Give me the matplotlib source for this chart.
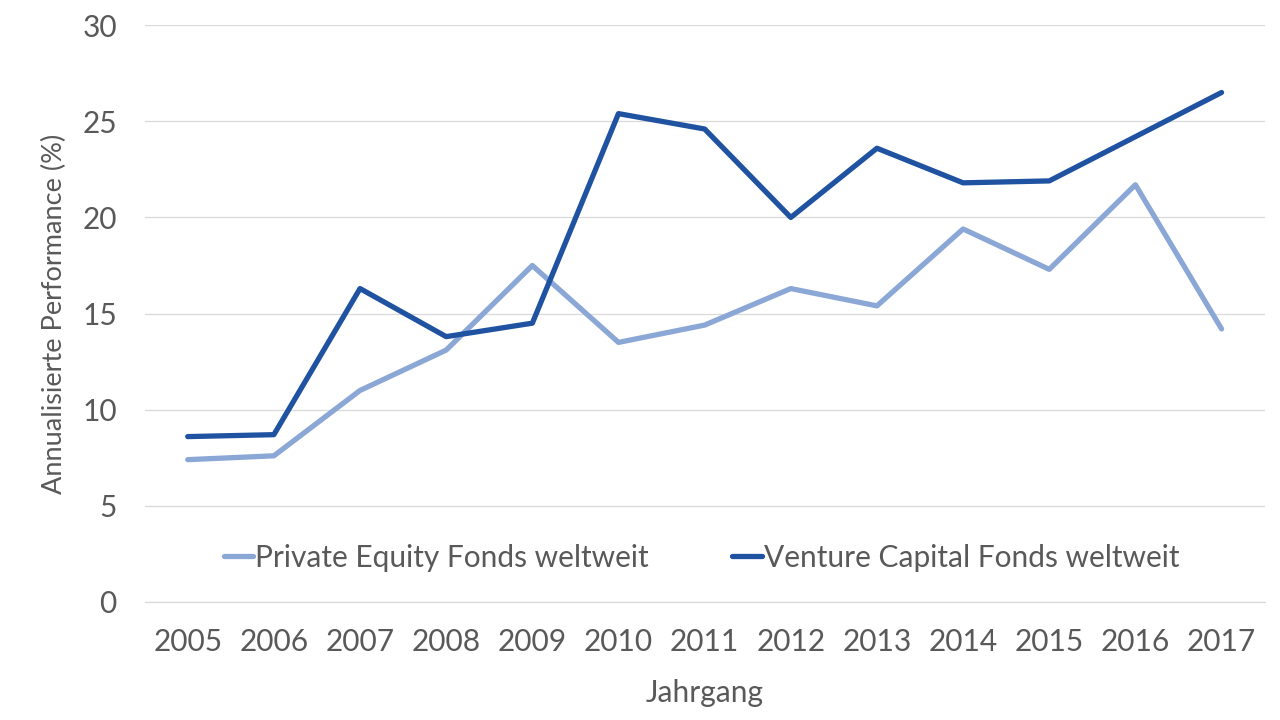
import matplotlib.pyplot as plt
import numpy as np

plt.rcParams['font.family'] = ['Lato', 'DejaVu Sans']

jahre = ['2005', '2006', '2007', '2008', '2009', '2010', '2011',
         '2012', '2013', '2014', '2015', '2016', '2017']
private_equity = [7.4, 7.6, 11.0, 13.1, 17.5, 13.5, 14.4, 16.3, 15.4, 19.4, 17.3, 21.7, 14.2]
venture_capital = [8.6, 8.7, 16.3, 13.8, 14.5, 25.4, 24.6, 20.0, 23.6, 21.8, 21.9, 24.2, 26.5]
yticks = [0, 5, 10, 15, 20, 25, 30]

grau = '#595959'
hell = '#8BA7D6'
dunkel = '#1F52A0'

fig = plt.figure(figsize=(12.8, 7.2), dpi=100)
ax = fig.add_axes([0.113, 0.164, 0.875, 0.801])

x = np.arange(len(jahre))
ax.plot(x, private_equity, color=hell, lw=3.8, solid_capstyle='round',
        solid_joinstyle='round', label='Private Equity Fonds weltweit', zorder=3)
ax.plot(x, venture_capital, color=dunkel, lw=3.8, solid_capstyle='round',
        solid_joinstyle='round', label='Venture Capital Fonds weltweit', zorder=4)

ax.set_xlim(-0.5, len(jahre) - 0.5)
ax.set_ylim(0, 30)
ax.set_yticks(yticks)
ax.set_xticks(x)
ax.set_xticklabels(jahre)
ax.grid(axis='y', color='#d9d9d9', lw=0.9)
ax.axhline(0, color='#d9d9d9', lw=0.9, clip_on=False, zorder=1)
ax.set_axisbelow(True)
for s in ax.spines.values():
    s.set_visible(False)
ax.tick_params(length=0, labelsize=21.5, colors=grau)
ax.tick_params(axis='x', pad=19)
ax.tick_params(axis='y', pad=20)

ax.set_ylabel('Annualisierte Performance (%)', fontsize=19.5, color=grau, labelpad=11)
ax.set_xlabel('Jahrgang', fontsize=21.5, color=grau, labelpad=16)

leg = ax.legend(loc='center', bbox_to_anchor=(0.497, 0.077), ncol=2, frameon=False,
                fontsize=21.5, handlelength=1.0, handletextpad=0.05, columnspacing=2.8)
for t in leg.get_texts():
    t.set_color(grau)

fig.savefig('out.png', dpi=100, facecolor='white')
